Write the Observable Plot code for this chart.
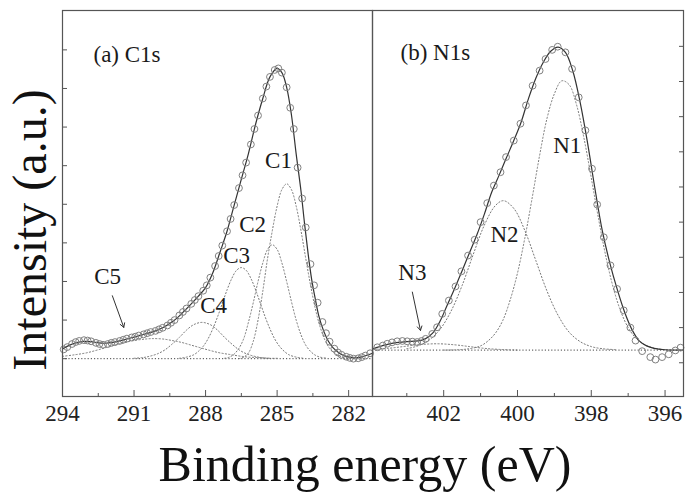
<!DOCTYPE html>
<html>
<head>
<meta charset="utf-8">
<script src="https://cdn.jsdelivr.net/npm/d3@7"></script>
<script src="https://cdn.jsdelivr.net/npm/@observablehq/plot@0.6"></script>
<style>
  body { margin: 0; background: #fff; }
  #fig { position: relative; width: 686px; height: 493px; overflow: hidden;
         font-family: "Liberation Serif", "Times New Roman", serif; color: #111; }
  #fig svg, #fig svg text { font-family: "Liberation Serif", "Times New Roman", serif !important; }
  #left, #right { position: absolute; top: 0; }
  #left { left: 0; }
  #right { left: 372px; }
  .ylab { position: absolute; left: 30px; top: 230px; line-height: 1;
          transform: translate(-50%, -50%) rotate(-90deg); font-size: 48px; white-space: nowrap; }
  .xlab { position: absolute; left: 365px; top: 464px; line-height: 1;
          transform: translate(-50%, -50%); font-size: 50px; white-space: nowrap; }
</style>
</head>
<body>
<div id="fig">
  <div id="left"></div>
  <div id="right"></div>
  <div class="ylab">Intensity (a.u.)</div>
  <div class="xlab">Binding energy (eV)</div>
</div>
<script>
// ---------- C1s region: measured points [binding energy (eV), intensity] ----------
const c1sData = [
  [293.95,0.24],[293.8,0.30],[293.6,0.38],[293.45,0.43],[293.3,0.46],[293.1,0.48],[292.95,0.47],
  [292.8,0.45],[292.6,0.41],[292.45,0.38],[292.3,0.36],[292.1,0.38],[291.95,0.41],[291.8,0.43],
  [291.6,0.46],[291.45,0.49],[291.3,0.52],[291.1,0.55],[290.95,0.57],[290.8,0.60],[290.6,0.63],
  [290.45,0.66],[290.3,0.69],[290.1,0.72],[289.95,0.76],[289.8,0.80],[289.6,0.86],[289.45,0.93],
  [289.3,1.00],[289.1,1.12],[288.95,1.21],[288.8,1.30],[288.6,1.42],[288.45,1.52],[288.3,1.62],
  [288.1,1.76],[287.95,1.90],[287.8,2.10],[287.6,2.40],[287.45,2.66],[287.3,2.93],[287.1,3.30],
  [286.95,3.62],[286.8,3.98],[286.6,4.42],[286.45,4.75],[286.3,5.08],[286.1,5.55],[285.95,5.95],
  [285.8,6.30],[285.6,6.74],[285.45,7.05],[285.3,7.30],[285.1,7.48],[284.95,7.52],[284.8,7.41],
  [284.6,7.03],[284.45,6.50],[284.3,5.95],[284.14,4.95],[283.95,4.15],[283.8,3.40],[283.6,2.45],
  [283.45,1.90],[283.3,1.45],[283.1,0.95],[282.95,0.66],[282.8,0.44],[282.6,0.26],[282.45,0.16],
  [282.3,0.10],[282.1,0.05],[281.95,0.02],[281.8,0.00],[281.6,0.01],[281.45,0.04],[281.3,0.08],[281.1,0.14]
];
// fitted envelope
const c1sFit = [
  [294.0,0.25],[293.7,0.35],[293.4,0.42],[293.1,0.45],[292.8,0.44],[292.5,0.41],[292.2,0.40],
  [291.9,0.42],[291.6,0.46],[291.3,0.51],[291.0,0.56],[290.7,0.61],[290.4,0.66],[290.1,0.72],
  [289.8,0.80],[289.5,0.91],[289.2,1.05],[288.9,1.23],[288.6,1.42],[288.3,1.62],[288.0,1.84],
  [287.7,2.22],[287.4,2.75],[287.1,3.30],[286.8,3.98],[286.5,4.65],[286.2,5.32],[285.9,6.08],
  [285.6,6.74],[285.3,7.30],[285.0,7.52],[284.8,7.41],[284.6,7.03],[284.4,6.32],[284.2,5.30],
  [284.0,4.35],[283.85,3.50],[283.7,2.72],[283.55,2.05],[283.4,1.55],[283.25,1.10],[283.05,0.72],
  [282.85,0.45],[282.65,0.28],[282.4,0.15],[282.1,0.06],[281.8,0.02],[281.5,0.04],[281.0,0.14]
];
// fitted components
const C1 = [
  [286.6,0.00],[286.4,0.04],[286.2,0.15],[286.0,0.45],[285.8,1.00],[285.6,1.75],[285.4,2.60],
  [285.2,3.32],[285.0,3.95],[284.8,4.38],[284.6,4.53],[284.4,4.38],[284.2,3.95],[284.0,3.32],
  [283.8,2.60],[283.6,1.91],[283.4,1.30],[283.2,0.83],[283.0,0.49],[282.8,0.27],[282.6,0.14],
  [282.3,0.05],[282.0,0.01]
];
const C2 = [
  [287.2,0.01],[287.0,0.04],[286.8,0.12],[286.6,0.27],[286.4,0.52],[286.2,0.95],[286.0,1.45],
  [285.8,2.00],[285.6,2.48],[285.4,2.83],[285.2,2.95],[285.0,2.83],[284.8,2.48],[284.6,2.00],
  [284.4,1.48],[284.2,1.00],[284.0,0.62],[283.8,0.35],[283.6,0.19],[283.4,0.09],[283.2,0.04],[282.9,0.01]
];
const C3 = [
  [289.1,0.01],[288.8,0.04],[288.5,0.10],[288.3,0.19],[288.1,0.32],[287.9,0.51],[287.7,0.77],
  [287.5,1.08],[287.3,1.43],[287.1,1.78],[286.9,2.08],[286.7,2.29],[286.5,2.36],[286.3,2.29],
  [286.1,2.08],[285.9,1.78],[285.7,1.43],[285.5,1.08],[285.3,0.77],[285.1,0.51],[284.9,0.32],
  [284.7,0.19],[284.5,0.10],[284.2,0.04],[283.9,0.01]
];
const C4 = [
  [291.0,0.01],[290.6,0.03],[290.3,0.07],[290.0,0.13],[289.7,0.23],[289.4,0.38],[289.1,0.55],
  [288.8,0.74],[288.5,0.88],[288.15,0.94],[287.8,0.88],[287.5,0.74],[287.2,0.55],[286.9,0.38],
  [286.6,0.23],[286.3,0.13],[286.0,0.07],[285.7,0.03],[285.3,0.01]
];
const C5 = [
  [294.0,0.06],[293.5,0.10],[293.0,0.15],[292.5,0.23],[292.0,0.32],[291.5,0.40],[291.0,0.47],
  [290.5,0.51],[290.2,0.52],[289.8,0.51],[289.4,0.47],[289.0,0.42],[288.6,0.35],[288.2,0.28],
  [287.8,0.21],[287.4,0.15],[287.0,0.11],[286.6,0.07],[286.2,0.04],[285.8,0.03],[285.4,0.01],[285.0,0.01]
];

// ---------- N1s region ----------
const n1sData = [
  [403.8,0.44],[403.65,0.49],[403.53,0.54],[403.4,0.58],[403.26,0.61],[403.12,0.62],[402.99,0.61],
  [402.85,0.60],[402.72,0.59],[402.6,0.62],[402.49,0.68],[402.31,0.82],[402.18,1.01],[402.04,1.39],
  [401.86,1.77],[401.68,2.17],[401.52,2.60],[401.34,3.05],[401.16,3.50],[401.0,4.00],[400.82,4.54],
  [400.64,5.04],[400.46,5.42],[400.31,5.85],[400.1,6.32],[399.92,6.80],[399.77,7.32],[399.59,7.88],
  [399.4,8.31],[399.24,8.64],[399.06,8.90],[398.91,8.99],[398.7,8.83],[398.52,8.36],[398.34,7.55],
  [398.16,6.61],[397.98,5.52],[397.84,4.50],[397.66,3.57],[397.48,2.77],[397.3,2.10],[397.12,1.49],
  [396.94,1.00],[396.8,0.63],[396.62,0.33],[396.4,0.16],[396.26,0.09],[396.08,0.16],[395.9,0.24],
  [395.72,0.35],[395.58,0.43]
];
const n1sFit = [
  [403.9,0.40],[403.6,0.50],[403.3,0.57],[403.0,0.60],[402.7,0.62],[402.5,0.68],[402.3,0.84],
  [402.1,1.18],[401.9,1.65],[401.7,2.12],[401.5,2.62],[401.3,3.13],[401.1,3.64],[400.9,4.22],
  [400.7,4.85],[400.5,5.33],[400.3,5.83],[400.1,6.32],[399.9,6.85],[399.7,7.52],[399.5,8.10],
  [399.3,8.55],[399.1,8.86],[398.9,8.98],[398.7,8.83],[398.5,8.30],[398.3,7.40],[398.1,6.25],
  [397.9,4.95],[397.7,3.75],[397.5,2.85],[397.3,2.10],[397.1,1.45],[396.9,0.95],[396.7,0.62],
  [396.5,0.48],[396.3,0.41],[396.0,0.37],[395.5,0.36]
];
const N1 = [
  [402.0,0.36],[401.6,0.37],[401.3,0.40],[401.0,0.48],[400.8,0.62],[400.6,0.84],[400.4,1.20],
  [400.2,1.78],[400.0,2.55],[399.8,3.55],[399.6,4.70],[399.4,5.90],[399.2,6.95],[399.0,7.65],
  [398.8,8.02],[398.6,7.91],[398.4,7.34],[398.2,6.40],[398.0,5.26],[397.8,4.08],[397.6,3.00],
  [397.4,2.12],[397.2,1.46],[397.0,1.00],[396.8,0.71],[396.6,0.54],[396.4,0.45],[396.1,0.38],[395.8,0.36]
];
const N2 = [
  [403.0,0.40],[402.7,0.48],[402.4,0.64],[402.1,0.95],[401.8,1.47],[401.5,2.20],[401.2,3.08],
  [400.9,3.91],[400.6,4.47],[400.38,4.61],[400.1,4.39],[399.8,3.76],[399.5,2.90],[399.2,2.04],
  [398.9,1.35],[398.6,0.87],[398.3,0.60],[398.0,0.46],[397.7,0.40],[397.3,0.37]
];
const N3 = [
  [403.9,0.38],[403.5,0.41],[403.1,0.46],[402.7,0.51],[402.2,0.54],[401.7,0.51],[401.3,0.46],
  [400.9,0.41],[400.5,0.38],[400.0,0.36]
];
const n1sBaseline = [0.36];

// ---------- axes ----------
const c1sMajor = [294, 291, 288, 285, 282];
const c1sMinor = [292.5, 289.5, 286.5, 283.5];
const n1sMajor = [402, 400, 398, 396];
const n1sMinor = [403, 401, 399, 397];
const c1sYTicks = [0, 1, 2, 3, 4, 5, 6, 7, 8];
const n1sYTicks = [0, 1, 2, 3, 4, 5, 6, 7, 8, 9];

// ---------- labels ----------
const c1sTitle = [{x: 292.70, y: 7.88, text: "(a) C1s"}];
const c1sPeaks = [
  {x: 284.94, y: 5.13, text: "C1"},
  {x: 286.03, y: 3.47, text: "C2"},
  {x: 286.70, y: 2.67, text: "C3"},
  {x: 287.66, y: 1.37, text: "C4"},
  {x: 292.11, y: 2.12, text: "C5"}
];
const n1sTitle = [{x: 403.17, y: 8.82, text: "(b) N1s"}];
const n1sPeaks = [
  {x: 398.65, y: 6.18, text: "N1"},
  {x: 400.35, y: 3.65, text: "N2"},
  {x: 402.85, y: 2.57, text: "N3"}
];
const c1sArrow = [{x1: 291.91, y1: 1.63, x2: 291.43, y2: 0.81}];
const n1sArrow = [{x1: 402.85, y1: 2.01, x2: 402.63, y2: 0.92}];

const FONT = "Liberation Serif, Times New Roman, serif";
const dotted = {stroke: "#777", strokeWidth: 1, strokeDasharray: "1.2,2.2", curve: "catmull-rom"};
const X = d => d[0], Y = d => d[1];
const labelStyle = {x: "x", y: "y", text: "text", fontSize: 23, fill: "#1a1a1a", fontFamily: FONT};

function panel({width, marginLeft, marginRight, xDomain, yDomain, data, fit, comps, base,
                major, minor, yTicks, yAnchor, title, peaks, arrows}) {
  return Plot.plot({
    width, height: 493,
    marginLeft, marginRight, marginTop: 10, marginBottom: 97,
    x: {domain: xDomain},
    y: {domain: yDomain},
    style: {fontFamily: FONT, background: "transparent", color: "#222", overflow: "visible"},
    marks: [
      Plot.ruleY(base, {stroke: "#444", strokeWidth: 1, strokeDasharray: "1.2,2"}),
      ...comps.map(c => Plot.line(c, {x: X, y: Y, ...dotted})),
      Plot.line(fit, {x: X, y: Y, stroke: "#333", strokeWidth: 1.2, curve: "catmull-rom"}),
      Plot.dot(data, {x: X, y: Y, r: 3.4, stroke: "#808080", strokeWidth: 1, fill: "none"}),
      Plot.frame({stroke: "#555", strokeWidth: 1.2}),
      Plot.axisX({ticks: major, tickSize: -6, tickPadding: 14, fontSize: 23, fill: "#222",
                  fontFamily: FONT, stroke: "#555", tickFormat: d => String(d)}),
      Plot.axisX({ticks: minor, tickSize: -3, stroke: "#555", tickFormat: () => ""}),
      Plot.axisY({ticks: yTicks, anchor: yAnchor, tickSize: -5, stroke: "#555", tickFormat: () => ""}),
      Plot.text(title, {...labelStyle, textAnchor: "start"}),
      Plot.text(peaks, {...labelStyle, textAnchor: "middle"}),
      Plot.arrow(arrows, {x1: "x1", y1: "y1", x2: "x2", y2: "y2", stroke: "#333",
                          strokeWidth: 1, headLength: 7})
    ]
  });
}

document.getElementById("left").append(panel({
  width: 373, marginLeft: 62, marginRight: 1,
  xDomain: [294, 281], yDomain: [-0.98, 9.02],
  data: c1sData, fit: c1sFit, comps: [C1, C2, C3, C4, C5], base: [0],
  major: c1sMajor, minor: c1sMinor, yTicks: c1sYTicks, yAnchor: "left",
  title: c1sTitle, peaks: c1sPeaks, arrows: c1sArrow
}));

document.getElementById("right").append(panel({
  width: 314, marginLeft: 0, marginRight: 3,
  xDomain: [403.93, 395.5], yDomain: [-0.96, 10.02],
  data: n1sData, fit: n1sFit, comps: [N1, N2, N3], base: n1sBaseline,
  major: n1sMajor, minor: n1sMinor, yTicks: n1sYTicks, yAnchor: "right",
  title: n1sTitle, peaks: n1sPeaks, arrows: n1sArrow
}));
</script>
</body>
</html>
